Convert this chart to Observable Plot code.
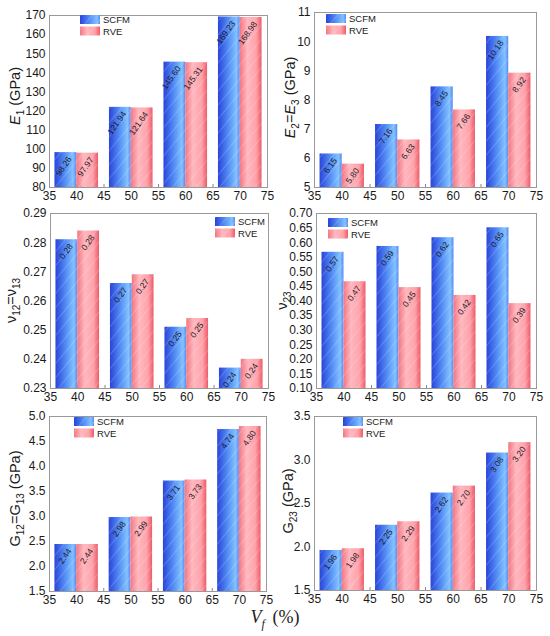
<!DOCTYPE html>
<html><head><meta charset="utf-8">
<script src="https://cdn.jsdelivr.net/npm/d3@7"></script>
<script src="https://cdn.jsdelivr.net/npm/@observablehq/plot@0.6"></script>
<style>
body{margin:0;background:#fff;font-family:"Liberation Sans",Arial,sans-serif;}
#wrap{position:relative;width:550px;height:636px;overflow:hidden;}
.panel{position:absolute;}
#xlabel{position:absolute;left:0;width:550px;top:607px;text-align:center;font-family:"Liberation Serif","Times New Roman",serif;font-size:18px;color:#222;word-spacing:3px;}
#xlabel sub{font-size:12px;}
</style></head><body>
<div id="wrap">
<svg width="0" height="0" style="position:absolute">
  <defs>
    <linearGradient id="gBlue" x1="0" x2="1" y1="0" y2="0">
      <stop offset="0" stop-color="#2944da"/>
      <stop offset="0.5" stop-color="#5590f6"/>
      <stop offset="0.85" stop-color="#82c2ff"/>
      <stop offset="1" stop-color="#5a88f2"/>
    </linearGradient>
    <linearGradient id="gRed" x1="0" x2="1" y1="0" y2="0">
      <stop offset="0" stop-color="#f27682"/>
      <stop offset="0.35" stop-color="#ffb8bf"/>
      <stop offset="0.75" stop-color="#ffa2aa"/>
      <stop offset="1" stop-color="#ec5a68"/>
    </linearGradient>
    <pattern id="hatch" patternUnits="userSpaceOnUse" width="9" height="9" patternTransform="rotate(40)">
      <line x1="0" y1="0" x2="0" y2="9" stroke="#ffffff" stroke-opacity="0.35" stroke-width="1"/>
    </pattern>
  </defs>
</svg>
<div id="xlabel"><i>V</i><sub><i>f</i></sub> (%)</div>
</div>
<script>
// ---------- data ----------
const vf = [40, 50, 60, 70];
const xTicks = [35, 40, 45, 50, 55, 60, 65, 70, 75];
const seriesNames = ["SCFM", "RVE"];

const e1Scfm = [98.26, 121.94, 145.60, 169.23];
const e1Rve = [97.97, 121.64, 145.31, 168.98];
const e1Ticks = [80, 90, 100, 110, 120, 130, 140, 150, 160, 170];

const e2Scfm = [6.15, 7.16, 8.45, 10.18];
const e2Rve = [5.80, 6.63, 7.66, 8.92];
const e2Ticks = [5, 6, 7, 8, 9, 10, 11];

const v12Scfm = [0.281, 0.266, 0.251, 0.237];
const v12Rve = [0.284, 0.269, 0.254, 0.240];
const v12Ticks = [0.23, 0.24, 0.25, 0.26, 0.27, 0.28, 0.29];

const v23Scfm = [0.567, 0.587, 0.617, 0.651];
const v23Rve = [0.466, 0.446, 0.419, 0.391];
const v23Ticks = [0.10, 0.15, 0.20, 0.25, 0.30, 0.35, 0.40, 0.45, 0.50, 0.55, 0.60, 0.65, 0.70];

const g12Scfm = [2.44, 2.98, 3.71, 4.74];
const g12Rve = [2.44, 2.99, 3.73, 4.80];
const g12Ticks = [1.5, 2.0, 2.5, 3.0, 3.5, 4.0, 4.5, 5.0];

const g23Scfm = [1.96, 2.25, 2.62, 3.08];
const g23Rve = [1.98, 2.29, 2.70, 3.20];
const g23Ticks = [1.5, 2.0, 2.5, 3.0, 3.5];

// ---------- layout ----------
const panels = [
  {left: 0, top: 0, ml: 49, mr: 8, mt: 15, mb: 18, scfm: e1Scfm, rve: e1Rve, ticks: e1Ticks, fmt: d3.format("d"),
   label: [["E", 0, 1], ["1", 1, 0], [" (GPa)", 0, 0]], labelX: 20, labelShift: -5, legend: [80, 15]},
  {left: 275, top: 0, ml: 39, mr: 14, mt: 12, mb: 18, scfm: e2Scfm, rve: e2Rve, ticks: e2Ticks, fmt: d3.format("d"),
   label: [["E", 0, 1], ["2", 1, 0], ["=", 0, 0], ["E", 0, 1], ["3", 1, 0], [" (GPa)", 0, 0]], labelX: 20, labelShift: -2, legend: [51, 14]},
  {left: 0, top: 205, ml: 50, mr: 7, mt: 8, mb: 22, scfm: v12Scfm, rve: v12Rve, ticks: v12Ticks, fmt: d3.format(".2f"),
   label: [["ν", 0, 0], ["12", 1, 0], ["=ν", 0, 0], ["13", 1, 0]], labelX: 16, labelShift: 0, legend: [215, 12]},
  {left: 275, top: 205, ml: 41, mr: 14, mt: 8, mb: 22, scfm: v23Scfm, rve: v23Rve, ticks: v23Ticks, fmt: d3.format(".2f"),
   label: [["ν", 0, 0], ["23", 1, 0]], labelX: 12, labelShift: 0, legend: [53, 13]},
  {left: 0, top: 410, ml: 49, mr: 9, mt: 6, mb: 24, scfm: g12Scfm, rve: g12Rve, ticks: g12Ticks, fmt: d3.format(".1f"),
   label: [["G", 0, 0], ["12", 1, 0], ["=G", 0, 0], ["13", 1, 0], [" (GPa)", 0, 0]], labelX: 20, labelShift: -5, legend: [74, 7]},
  {left: 275, top: 410, ml: 39, mr: 14, mt: 6, mb: 25, scfm: g23Scfm, rve: g23Rve, ticks: g23Ticks, fmt: d3.format(".1f"),
   label: [["G", 0, 0], ["23", 1, 0], [" (GPa)", 0, 0]], labelX: 18, labelShift: -2, legend: [68, 7]}
];

const W = 275, H = 205;
const wrap = document.getElementById("wrap");

panels.forEach((p) => {
  const ymin = p.ticks[0], ymax = p.ticks[p.ticks.length - 1];
  const rows = [];
  vf.forEach((x, i) => {
    rows.push({s: 0, x1: x - 4, x2: x, v: p.scfm[i]});
    rows.push({s: 1, x1: x, x2: x + 4, v: p.rve[i]});
  });
  const innerH = H - p.mt - p.mb;
  const tickLen = (ymax - ymin) * 3 / innerH;
  const chart = Plot.plot({
    width: W, height: H,
    marginLeft: p.ml, marginRight: p.mr, marginTop: p.mt, marginBottom: p.mb,
    style: {fontFamily: "'Liberation Sans', Arial, sans-serif", fontSize: "12px", color: "#1a1a1a", background: "transparent", overflow: "visible"},
    x: {domain: [35, 75]},
    y: {domain: [ymin, ymax]},
    marks: [
      Plot.ruleX(xTicks, {x: d => d, y1: ymin, y2: ymin + tickLen, stroke: "#888"}),
      Plot.rect(rows, {x1: "x1", x2: "x2", y1: () => ymin, y2: "v", fill: d => d.s === 0 ? "url(#gBlue)" : "url(#gRed)"}),
      Plot.rect(rows, {x1: "x1", x2: "x2", y1: () => ymin, y2: "v", fill: "url(#hatch)"}),
      Plot.text(rows, {x: d => (d.x1 + d.x2) / 2, y: "v", text: d => d.v.toFixed(2), rotate: -55, textAnchor: "end",
        dx: 4, dy: 5, fontSize: 8.5, fill: "#1c1c2a"}),
      Plot.frame({stroke: "#999"}),
      Plot.axisX(xTicks, {tickSize: 0, tickPadding: 4, label: null, tickFormat: d => d}),
      Plot.axisY(p.ticks, {tickSize: 0, tickPadding: 4, label: null, tickFormat: p.fmt})
    ]
  });
  chart.classList.add("panel");
  chart.style.left = p.left + "px";
  chart.style.top = p.top + "px";
  wrap.appendChild(chart);

  const svg = d3.select(chart);
  // y label
  const cy = p.mt + innerH / 2 + p.labelShift;
  const t = svg.append("text")
    .attr("transform", `translate(${p.labelX},${cy}) rotate(-90)`)
    .attr("text-anchor", "middle")
    .attr("font-size", 14.5)
    .attr("fill", "#1a1a1a");
  let sub = false;
  p.label.forEach(([s, isSub, ital]) => {
    const ts = t.append("tspan").text(s);
    if (ital) ts.attr("font-style", "italic");
    if (isSub && !sub) { ts.attr("dy", 4).attr("font-size", 10); sub = true; }
    else if (isSub) { ts.attr("font-size", 10); }
    else if (sub) { ts.attr("dy", -4); sub = false; }
  });
  // legend
  const lg = svg.append("g").attr("transform", `translate(${p.legend[0]},${p.legend[1]})`);
  seriesNames.forEach((name, i) => {
    lg.append("rect").attr("x", 0).attr("y", i * 11.5).attr("width", 20).attr("height", 9)
      .attr("fill", i === 0 ? "url(#gBlue)" : "url(#gRed)");
    lg.append("rect").attr("x", 0).attr("y", i * 11.5).attr("width", 20).attr("height", 9).attr("fill", "url(#hatch)");
    lg.append("text").attr("x", 23).attr("y", i * 11.5 + 8).attr("text-anchor", "start")
      .attr("font-size", 9.5).attr("fill", "#1a1a1a").text(name);
  });
});
</script>
</body></html>
